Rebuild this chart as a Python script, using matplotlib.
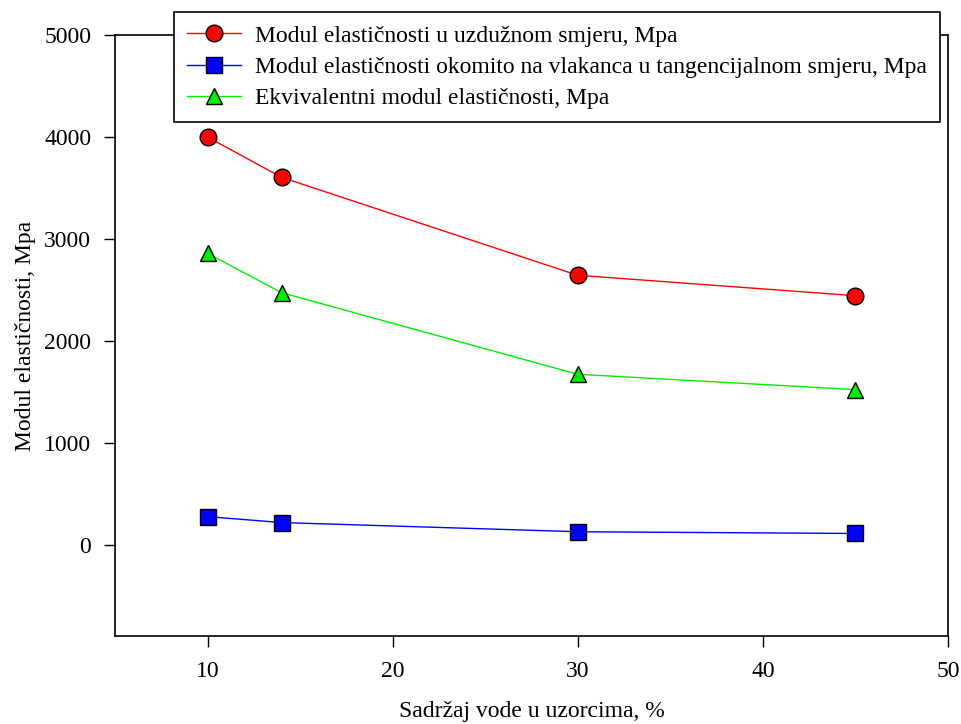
import matplotlib.pyplot as plt

plt.rcParams['font.family'] = ['Liberation Serif', 'DejaVu Serif']

voda = [10, 14, 30, 45]
uzduzni = [4000, 3605, 2645, 2445]
okomito = [280, 222, 132, 115]
ekvivalentni = [2860, 2475, 1675, 1525]

fig = plt.figure(figsize=(9.62, 7.24), dpi=100)
ax = fig.add_axes([0.1195, 0.1215, 0.866, 0.9517 - 0.1215])

ax.plot(voda, uzduzni, color='red', lw=1, marker='o', ms=12,
        mfc='red', mec='black', mew=1,
        label='Modul elastičnosti u uzdužnom smjeru, Mpa')
ax.plot(voda, okomito, color='blue', lw=1, marker='s', ms=11,
        mfc='blue', mec='black', mew=1,
        label='Modul elastičnosti okomito na vlakanca u tangencijalnom smjeru, Mpa')
ax.plot(voda, ekvivalentni, color='#00ee00', lw=1, marker='^', ms=12,
        mfc='#00ee00', mec='black', mew=1,
        label='Ekvivalentni modul elastičnosti, Mpa')

ax.set_xlim(5, 50)
ax.set_ylim(-890, 5000)
ax.set_xticks([10, 20, 30, 40, 50])
ax.set_yticks([0, 1000, 2000, 3000, 4000, 5000])
ax.tick_params(labelsize=17, length=8, width=1, direction='out')
ax.tick_params(axis='x', pad=10)
ax.tick_params(axis='y', pad=9)
for s in ax.spines.values():
    s.set_linewidth(1.2)

ax.set_xlabel('Sadržaj vode u uzorcima, %', fontsize=17, labelpad=14)
ax.set_ylabel('Modul elastičnosti, Mpa', fontsize=17, labelpad=6)

leg = fig.legend(loc='upper left', bbox_to_anchor=(174 / 962, 1 - 12 / 724),
                 fontsize=17, frameon=True, fancybox=False, framealpha=1,
                 edgecolor='black', handlelength=2.3, handletextpad=0.6,
                 borderpad=0.55, labelspacing=0.42, borderaxespad=0)
leg.get_frame().set_linewidth(1.2)

fig.savefig('out.png', dpi=100)
